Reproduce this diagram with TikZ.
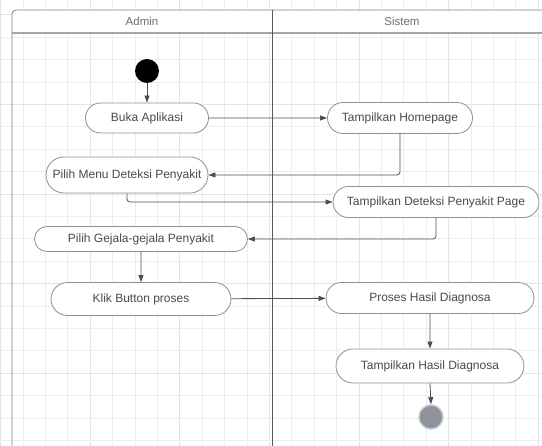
\documentclass[tikz,border=0pt]{standalone}
\usepackage{fontspec}
\setmainfont{Liberation Sans}
\usetikzlibrary{arrows.meta,shapes.misc}
\definecolor{gridc}{HTML}{EEEEEE}
\definecolor{gridd}{HTML}{E4E4E4}
\definecolor{framec}{HTML}{7A7E85}
\definecolor{boxc}{HTML}{8C9096}
\definecolor{txtc}{HTML}{454A52}
\definecolor{arrc}{HTML}{4A4E56}
\definecolor{endfill}{HTML}{8E939B}
\definecolor{endring}{HTML}{C9CBCF}
\tikzset{
  act/.style={rounded rectangle, draw=boxc, line width=0.8pt, fill=white, inner sep=0pt,
    text=txtc, font=\fontsize{12}{14}\selectfont, align=center},
  flow/.style={draw=arrc, line width=0.8pt, -{Triangle[length=7pt,width=5pt]}},
  lanetxt/.style={text=txtc!80, font=\fontsize{11.5}{13}\selectfont}
}
\begin{document}
\begin{tikzpicture}[x=1pt,y=-1pt]
\useasboundingbox (0,0) rectangle (542,446);
% grid
\foreach \i in {0,...,24} {
  \pgfmathsetmacro{\gx}{0.6+22.4*\i}
  \pgfmathtruncatemacro{\m}{mod(\i,4)}
  \ifnum\m=0 \draw[gridd, line width=0.9pt] (\gx,0) -- (\gx,446); \else \draw[gridc, line width=0.7pt] (\gx,0) -- (\gx,446); \fi
}
\foreach \j in {0,...,19} {
  \pgfmathsetmacro{\gy}{14.8+22.4*\j}
  \pgfmathtruncatemacro{\m}{mod(\j,4)}
  \ifnum\m=0 \draw[gridd, line width=0.9pt] (0,\gy) -- (542,\gy); \else \draw[gridc, line width=0.7pt] (0,\gy) -- (542,\gy); \fi
}
% swimlane frame
\fill[white] (12,10) rectangle (545,33);
\draw[framec, line width=0.8pt, rounded corners=4pt] (12,446) -- (12,10) -- (545,10);
\draw[boxc!80, line width=1.3pt] (12,33) -- (545,33);
\draw[framec!70!black, line width=0.8pt] (272,10) -- (272,446);
\node[lanetxt] (lane1) at (142,21) {Admin};
\node[lanetxt] (lane2) at (402,21) {Sistem};
% nodes
\node[circle, fill=black, minimum size=24pt, inner sep=0pt] (start) at (147,71) {};
\node[act, minimum width=123pt, minimum height=30pt] (buka) at (147,118) {Buka Aplikasi};
\node[act, minimum width=145pt, minimum height=31pt] (home) at (400,118) {Tampilkan Homepage};
\node[act, minimum width=162pt, minimum height=36pt] (menu) at (127,175) {Pilih Menu Deteksi Penyakit};
\node[act, minimum width=206pt, minimum height=31pt] (dpage) at (436,202) {Tampilkan Deteksi Penyakit Page};
\node[act, minimum width=213pt, minimum height=25pt] (gejala) at (141,239) {Pilih Gejala-gejala Penyakit};
\node[act, minimum width=180pt, minimum height=33pt] (klik) at (141,299) {Klik Button proses};
\node[act, minimum width=208pt, minimum height=31pt] (proses) at (430,298) {Proses Hasil Diagnosa};
\node[act, minimum width=188pt, minimum height=34pt] (hasil) at (430,366) {Tampilkan Hasil Diagnosa};
\node[circle, fill=endfill, draw=endring, line width=1.5pt, minimum size=24pt, inner sep=0pt] (end) at (431,417) {};
% connectors
\draw[flow] (start) -- (buka);
\draw[flow] (buka) -- (home);
\draw[flow, rounded corners=3pt] (home.south) |- (menu.east);
\draw[flow, rounded corners=3pt] (menu.south) |- (dpage.west);
\draw[flow, rounded corners=3pt] (dpage.south) |- (gejala.east);
\draw[flow] (gejala) -- (klik);
\draw[flow] (klik) -- (proses);
\draw[flow] (proses) -- (hasil);
\draw[flow] (hasil.south) -- (end.north);
\end{tikzpicture}
\end{document}
